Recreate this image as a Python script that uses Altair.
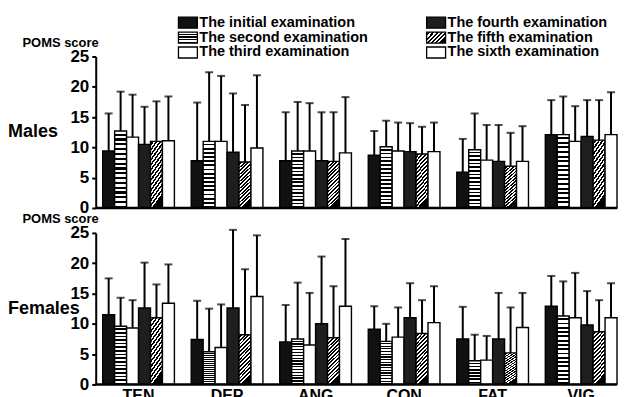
import altair as alt
import pandas as pd

categories = ["TEN", "DEP", "ANG", "CON", "FAT", "VIG"]
exams = ["The initial examination", "The second examination", "The third examination",
         "The fourth examination", "The fifth examination", "The sixth examination"]

# Males: mean values per examination (order of categories)
m_mean_1 = [9.4, 7.8, 7.8, 8.7, 5.9, 12.1]
m_mean_2 = [12.7, 11.0, 9.4, 10.1, 9.6, 12.1]
m_mean_3 = [11.7, 11.0, 9.4, 9.4, 7.9, 11.0]
m_mean_4 = [10.5, 9.2, 7.8, 9.3, 7.7, 11.8]
m_mean_5 = [11.0, 7.6, 7.7, 8.9, 6.9, 11.2]
m_mean_6 = [11.1, 9.9, 9.1, 9.3, 7.7, 12.1]
# Males: mean + SD (top of error bar)
m_up_1 = [15.6, 17.4, 15.8, 12.7, 11.4, 17.8]
m_up_2 = [19.2, 22.4, 17.5, 14.4, 15.6, 18.4]
m_up_3 = [18.7, 21.8, 17.3, 14.1, 13.7, 16.8]
m_up_4 = [16.7, 18.9, 15.8, 14.0, 13.7, 17.8]
m_up_5 = [17.6, 17.0, 15.8, 13.4, 12.4, 17.8]
m_up_6 = [18.4, 21.9, 18.3, 14.1, 13.5, 19.1]

# Females: mean values
f_mean_1 = [11.5, 7.4, 7.0, 9.1, 7.5, 12.9]
f_mean_2 = [9.6, 5.4, 7.5, 7.1, 3.9, 11.3]
f_mean_3 = [9.3, 6.1, 6.5, 7.8, 4.0, 11.0]
f_mean_4 = [12.6, 12.6, 10.0, 11.0, 7.5, 9.8]
f_mean_5 = [11.0, 8.2, 7.7, 8.4, 5.2, 8.7]
f_mean_6 = [13.4, 14.5, 12.9, 10.2, 9.4, 11.0]
# Females: mean + SD
f_up_1 = [17.5, 13.8, 13.1, 12.9, 12.8, 17.9]
f_up_2 = [14.3, 12.5, 16.8, 10.0, 8.2, 17.0]
f_up_3 = [13.9, 13.2, 15.1, 12.7, 8.0, 18.4]
f_up_4 = [20.1, 25.5, 21.1, 16.7, 15.1, 15.4]
f_up_5 = [16.5, 19.0, 16.2, 13.9, 12.7, 13.9]
f_up_6 = [19.8, 24.6, 24.0, 16.2, 15.1, 16.7]

y_ticks = [0, 5, 10, 15, 20, 25]

FONT = "Liberation Sans"
W, H = 516, 152


def stripes(n, x2, y2, frac=0.5):
    stops = []
    for i in range(n):
        a = i / n
        b = (i + frac) / n
        c = (i + 1) / n
        stops += [{"offset": a, "color": "white"}, {"offset": b, "color": "white"},
                  {"offset": b, "color": "black"}, {"offset": c, "color": "black"}]
    return {"gradient": "linear", "x1": 0, "y1": 0, "x2": x2, "y2": y2, "stops": stops}


bar_fills = ["#111111", stripes(16, 0, 1, 0.55), "white", "#1e1e1e", stripes(14, 0.25, 1, 0.5), "white"]
legend_fills = ["#111111", stripes(4, 0, 1, 0.6), "white", "#1e1e1e", stripes(6, 1, 0.55, 0.5), "white"]

one = alt.Data(values=[{"k": 0}])


def panel(means, ups, label, show_x, with_legend):
    rows = []
    for k, ex in enumerate(exams):
        for j, c in enumerate(categories):
            rows.append({"category": c, "exam": ex, "mean": means[k][j], "upper": ups[k][j]})
    df = pd.DataFrame(rows)

    if show_x:
        xaxis = alt.Axis(labelFontSize=16, labelFontWeight="bold", labelFont=FONT, labelAngle=0,
                         labelColor="black", domain=False, ticks=False, title=None,
                         labelPadding=3, labelBaseline="top")
    else:
        xaxis = None
    xenc = alt.X("category:N", sort=categories,
                 scale=alt.Scale(domain=categories, paddingInner=0.19, paddingOuter=0),
                 axis=xaxis)
    xoff = alt.XOffset("exam:N", sort=exams, scale=alt.Scale(domain=exams, paddingInner=0, paddingOuter=0))
    yscale = alt.Scale(domain=[0, 25], nice=False, zero=True)
    yaxis = alt.Axis(values=y_ticks, labelFontSize=17, labelFontWeight="bold", labelFont=FONT,
                     labelColor="black", tickSize=4, tickWidth=2, tickColor="black",
                     domainWidth=2, domainColor="black", grid=False, offset=7, labelPadding=3,
                     title="POMS score", titleAngle=0, titleAlign="left", titleBaseline="alphabetic",
                     titleX=-74, titleY=-10, titleFontSize=13, titleFontWeight="bold", titleFont=FONT,
                     titleColor="black")

    base = alt.Chart(df).encode(x=xenc, xOffset=xoff)
    layers = []
    for k, ex in enumerate(exams):
        layers.append(
            base.transform_filter(alt.datum.exam == ex)
            .mark_bar(fill=bar_fills[k], stroke="black", strokeWidth=1.4)
            .encode(y=alt.Y("mean:Q", scale=yscale, axis=yaxis))
        )
    layers.append(
        base.mark_rule(color="black", strokeWidth=2)
        .encode(y=alt.Y("mean:Q", scale=yscale, axis=yaxis), y2="upper:Q")
    )
    layers.append(
        base.mark_tick(color="black", thickness=2, size=8, orient="horizontal")
        .encode(y=alt.Y("upper:Q", scale=yscale, axis=yaxis))
    )
    # baseline
    layers.append(
        alt.Chart(one).mark_rule(color="black", strokeWidth=2.5)
        .encode(x=alt.value(-7), x2=alt.value(W), y=alt.value(H))
    )
    # panel label
    layers.append(
        alt.Chart(one).mark_text(text=label, align="left", baseline="middle", fontSize=18,
                                 fontWeight="bold", font=FONT, color="black")
        .encode(x=alt.value(-95), y=alt.value(76))
    )
    if with_legend:
        for k, ex in enumerate(exams):
            col = k // 3
            row = k % 3
            sx = 76 if col == 0 else 325
            yc = -34 + 15 * row
            layers.append(
                alt.Chart(one).mark_rect(fill=legend_fills[k], stroke="black", strokeWidth=1.3)
                .encode(x=alt.value(sx), x2=alt.value(sx + 19), y=alt.value(yc - 5.5), y2=alt.value(yc + 5.5))
            )
            layers.append(
                alt.Chart(one).mark_text(text=ex, align="left", baseline="middle", fontSize=14.5,
                                         fontWeight="bold", font=FONT, color="black")
                .encode(x=alt.value(sx + 21), y=alt.value(yc))
            )
    return alt.layer(*layers).properties(width=W, height=H)


males = panel([m_mean_1, m_mean_2, m_mean_3, m_mean_4, m_mean_5, m_mean_6],
              [m_up_1, m_up_2, m_up_3, m_up_4, m_up_5, m_up_6], "Males", False, True)
females = panel([f_mean_1, f_mean_2, f_mean_3, f_mean_4, f_mean_5, f_mean_6],
                [f_up_1, f_up_2, f_up_3, f_up_4, f_up_5, f_up_6], "Females", True, False)

chart = (
    alt.vconcat(males, females, spacing=25, bounds="flush")
    .properties(padding={"left": 0, "top": 6, "right": 0, "bottom": 0}, background="white")
    .configure_view(stroke=None)
)

chart.save("out.html", embed_options={"renderer": "svg", "actions": False})
